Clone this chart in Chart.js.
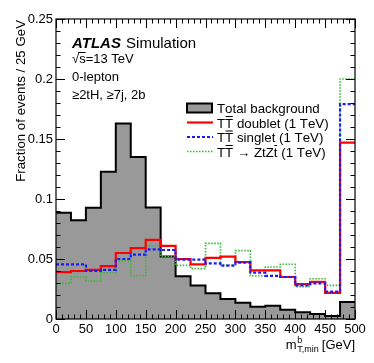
<!DOCTYPE html>
<html>
<head>
<meta charset="utf-8">
<script src="https://cdn.jsdelivr.net/npm/chart.js@4"></script>
<style>
  html, body { margin: 0; padding: 0; background: #fff; }
  #wrap { width: 374px; height: 363px; position: relative; }
</style>
</head>
<body>
<div id="wrap"><canvas id="histo"></canvas></div>
<script>
  // bin edges (GeV), 25 GeV wide, last bin holds overflow
  const binEdges = [0, 25, 50, 75, 100, 125, 150, 175, 200, 225, 250, 275, 300, 325, 350, 375, 400, 425, 450, 475, 500];

  const totalBackground = [0.0886, 0.0822, 0.0928, 0.1228, 0.163, 0.135, 0.093, 0.052, 0.0356, 0.028,
                           0.0214, 0.0167, 0.0136, 0.0103, 0.011, 0.0078, 0.0056, 0.0042, 0.0025, 0.0142];
  const doublet = [0.039, 0.040, 0.041, 0.044, 0.055, 0.059, 0.066, 0.061, 0.050, 0.0456,
                   0.051, 0.052, 0.0475, 0.0405, 0.0405, 0.035, 0.029, 0.031, 0.0217, 0.147];
  const singlet = [0.0456, 0.0456, 0.040, 0.041, 0.050, 0.0536, 0.058, 0.0575, 0.0494, 0.0494,
                   0.0464, 0.0444, 0.047, 0.0386, 0.036, 0.035, 0.028, 0.0297, 0.0228, 0.179];
  const ztzt = [0.0297, 0.035, 0.0317, 0.0386, 0.0486, 0.036, 0.061, 0.052, 0.0447, 0.042,
                0.063, 0.045, 0.057, 0.036, 0.0433, 0.0456, 0.027, 0.0336, 0.028, 0.200];

  const xTickLabels = ['0', '50', '100', '150', '200', '250', '300', '350', '400', '450', '500'];
  const yTickLabels = ['0', '0.05', '0.1', '0.15', '0.2', '0.25'];

  const FONT = '"Liberation Sans", Arial, Helvetica, sans-serif';

  // histogram -> step points at left edges, last value carried to the upper edge
  function toSteps(vals) {
    const pts = vals.map((v, i) => ({ x: binEdges[i], y: v }));
    pts.push({ x: binEdges[binEdges.length - 1], y: vals[vals.length - 1] });
    return pts;
  }

  // ROOT style inside ticks on all four sides
  const frameTicks = {
    id: 'frameTicks',
    afterDatasetsDraw(c) {
      const { ctx, chartArea: a, scales } = c;
      const xs = scales.x, ys = scales.y;
      ctx.save();
      ctx.strokeStyle = '#000';
      ctx.lineWidth = 1;
      ctx.beginPath();
      for (let v = 0; v <= 500; v += 10) {
        const px = Math.round(xs.getPixelForValue(v)) + 0.5;
        const len = v % 50 === 0 ? 9 : 4.5;
        ctx.moveTo(px, a.bottom); ctx.lineTo(px, a.bottom - len);
        ctx.moveTo(px, a.top); ctx.lineTo(px, a.top + len);
      }
      for (let k = 0; k <= 25; k++) {
        const py = Math.round(ys.getPixelForValue(k / 100)) + 0.5;
        const len = k % 5 === 0 ? 9 : 4.5;
        ctx.moveTo(a.left, py); ctx.lineTo(a.left + len, py);
        ctx.moveTo(a.right, py); ctx.lineTo(a.right - len, py);
      }
      ctx.stroke();
      ctx.lineWidth = 1.2;
      ctx.strokeRect(a.left, a.top, a.right - a.left, a.bottom - a.top);
      ctx.restore();
    }
  };

  function barText(ctx, txt, x, y, font) {
    // draw txt, overline on chars marked with '~' after them
    ctx.font = font;
    let cx = x;
    for (let i = 0; i < txt.length; i++) {
      const ch = txt[i];
      if (ch === '~') continue;
      const w = ctx.measureText(ch).width;
      ctx.fillText(ch, cx, y);
      if (txt[i + 1] === '~') {
        ctx.fillRect(cx + 0.5, y - 11.5, w - 1, 1);
      }
      cx += w;
    }
    return cx;
  }

  const annotations = {
    id: 'annotations',
    afterDraw(c) {
      const { ctx, chartArea: a } = c;
      ctx.save();
      ctx.fillStyle = '#000';
      ctx.textBaseline = 'alphabetic';
      ctx.textAlign = 'left';

      // axis titles
      ctx.save();
      ctx.translate(25, a.top + 1);
      ctx.rotate(-Math.PI / 2);
      ctx.textAlign = 'right';
      ctx.font = '13.3px ' + FONT;
      ctx.fillText('Fraction of events / 25 GeV', 0, 0);
      ctx.restore();

      const big = '13px ' + FONT, small = '9px ' + FONT;
      ctx.font = big;
      const wM = ctx.measureText('m').width, wG = ctx.measureText(' [GeV]').width;
      ctx.font = small;
      const wS = Math.max(ctx.measureText('b').width, ctx.measureText('T,min').width);
      let x0 = a.right - (wM + wS + wG);
      const yb = 349;
      ctx.font = big; ctx.fillText('m', x0, yb);
      ctx.font = small;
      ctx.fillText('b', x0 + wM + 0.5, yb - 6);
      ctx.fillText('T,min', x0 + wM + 0.5, yb + 3);
      ctx.font = big; ctx.fillText(' [GeV]', x0 + wM + wS, yb);

      // ATLAS label
      ctx.font = 'italic bold 15px ' + FONT;
      ctx.fillText('ATLAS', 72, 48);
      const wA = ctx.measureText('ATLAS').width;
      ctx.font = '15px ' + FONT;
      ctx.fillText(' Simulation', 72 + wA + 1, 48);

      ctx.font = '13px ' + FONT;
      ctx.fillText('√s=13 TeV', 72, 63);
      const wr = ctx.measureText('√').width, ws = ctx.measureText('s').width;
      ctx.fillRect(72 + wr - 1, 52, ws + 1, 1);
      ctx.fillText('0-lepton', 72, 81);
      ctx.fillText('≥2tH, ≥7j, 2b', 72, 99);

      // legend
      const lx = 187, tx = 217;
      const rows = [108, 122.5, 137, 151.5];
      c.data.datasets.forEach((ds, i) => {
        const ly = rows[ds.legendRow];
        ctx.save();
        if (ds.fill) {
          ctx.fillStyle = ds.backgroundColor;
          ctx.fillRect(lx, ly - 4.5, 25, 9);
          ctx.strokeStyle = ds.borderColor;
          ctx.lineWidth = 2;
          ctx.strokeRect(lx, ly - 4.5, 25, 9);
        } else {
          ctx.strokeStyle = ds.borderColor;
          ctx.lineWidth = ds.borderWidth;
          ctx.setLineDash(ds.borderDash || []);
          ctx.beginPath();
          ctx.moveTo(lx, ly); ctx.lineTo(lx + 26, ly);
          ctx.stroke();
        }
        ctx.restore();
        ctx.fillStyle = '#000';
        barText(ctx, ds.legendText, tx, ly + 5, '13.3px ' + FONT);
      });
      ctx.restore();
    }
  };

  new Chart(document.getElementById('histo'), {
    type: 'line',
    data: {
      datasets: [
        {
          label: 'Total background', legendText: 'Total background', legendRow: 0,
          data: toSteps(totalBackground),
          stepped: 'before', fill: 'origin',
          backgroundColor: '#999999', borderColor: '#000000', borderWidth: 2,
          pointRadius: 0, order: 4
        },
        {
          label: 'TT→ZtZt', legendText: 'TT~ → ZtZt~ (1 TeV)', legendRow: 3,
          data: toSteps(ztzt),
          stepped: 'before', fill: false,
          borderColor: '#33bb33', borderWidth: 1.6, borderDash: [1.5, 1.5],
          pointRadius: 0, order: 3
        },
        {
          label: 'TT singlet', legendText: 'TT~ singlet (1 TeV)', legendRow: 2,
          data: toSteps(singlet),
          stepped: 'before', fill: false,
          borderColor: '#1a1aff', borderWidth: 2.2, borderDash: [3, 2],
          pointRadius: 0, order: 1
        },
        {
          label: 'TT doublet', legendText: 'TT~ doublet (1 TeV)', legendRow: 1,
          data: toSteps(doublet),
          stepped: 'before', fill: false,
          borderColor: '#ff0000', borderWidth: 2.2,
          pointRadius: 0, order: 2
        }
      ]
    },
    options: {
      responsive: true,
      maintainAspectRatio: false,
      animation: false,
      layout: { padding: { left: 0, top: 19, right: 19, bottom: 0 } },
      plugins: {
        legend: { display: false },
        tooltip: { enabled: false }
      },
      scales: {
        x: {
          type: 'linear', min: 0, max: 500,
          grid: { display: false, drawTicks: false },
          border: { display: false },
          afterFit: (s) => { s.height = 44; },
          ticks: {
            stepSize: 50, padding: 3, maxRotation: 0, autoSkip: false,
            color: '#000', font: { family: FONT, size: 13 },
            callback: (v) => xTickLabels[v / 50]
          }
        },
        y: {
          type: 'linear', min: 0, max: 0.25,
          grid: { display: false, drawTicks: false },
          border: { display: false },
          afterFit: (s) => { s.width = 56; },
          ticks: {
            stepSize: 0.05, padding: 3, autoSkip: false,
            color: '#000', font: { family: FONT, size: 13 },
            callback: (v) => yTickLabels[Math.round(v / 0.05)]
          }
        }
      }
    },
    plugins: [frameTicks, annotations]
  });
</script>
</body>
</html>
